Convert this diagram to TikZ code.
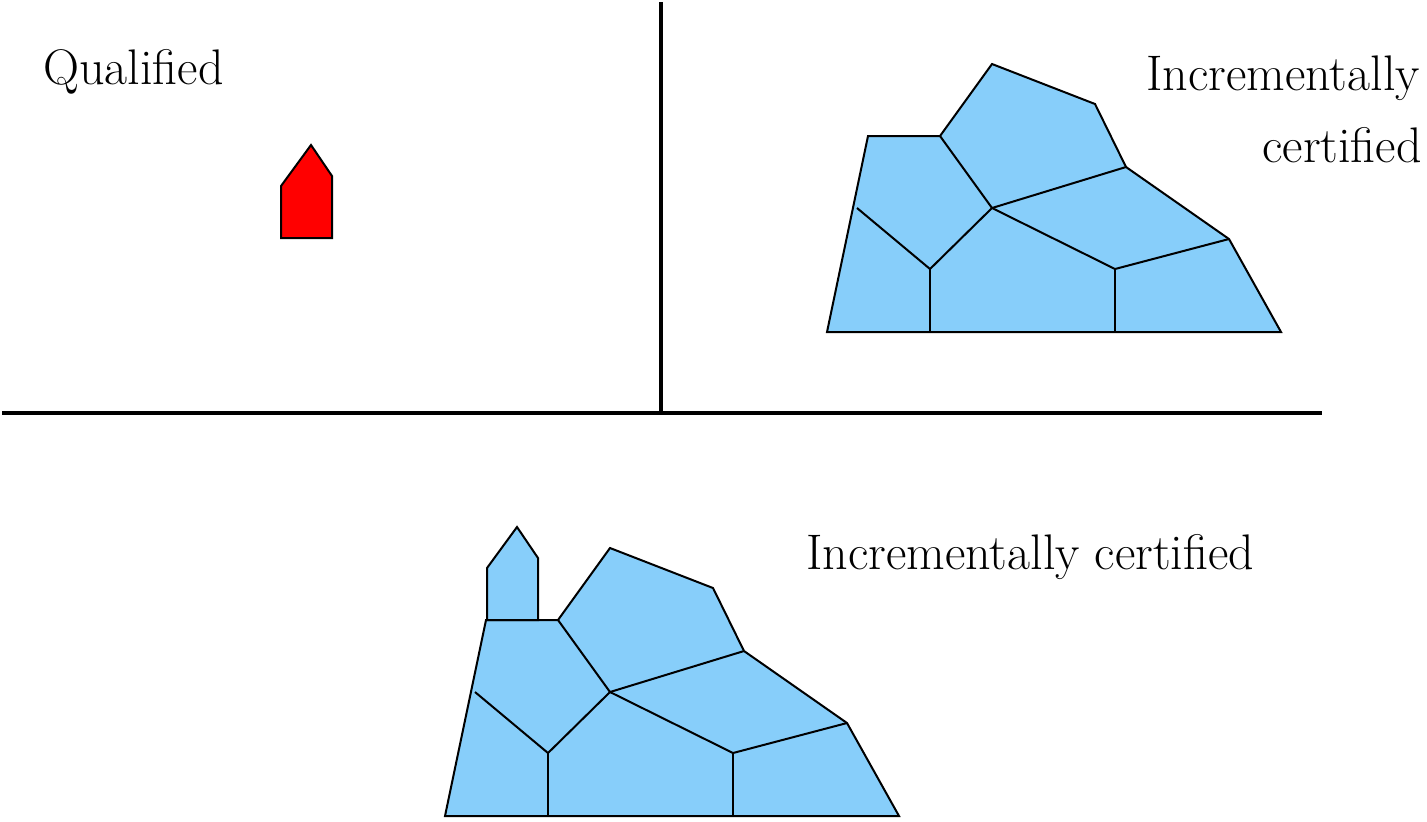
\documentclass[tikz,border=0pt]{standalone}
\usepackage{xcolor}
\definecolor{cellblue}{HTML}{87CEFA}
\definecolor{partred}{HTML}{FF0000}
\usetikzlibrary{positioning}

\begin{document}
\begin{tikzpicture}[
        x=0.5pt, y=-0.5pt,
        label text/.style={
            anchor=base west,
            inner sep=0pt,
            font=\fontsize{25}{30}\selectfont
        },
        divider/.style={
            draw=black,
            line width=1.75pt
        },
        cell/.style={
            draw=black,
            fill=cellblue,
            line width=1pt,
            line join=miter
        },
        edge/.style={
            draw=black,
            line width=1pt
        }
    ]
    \useasboundingbox (0,0) rectangle (1427,821);

    % Quadrant dividers
    \coordinate (top) at (661,2);
    \coordinate (mid) at (661,413);
    \coordinate (left) at (2,413);
    \coordinate (right) at (1322,413);
    \draw[divider] (top) -- (mid);
    \draw[divider] (left) -- (right);

    % Labels
    \node[label text] (qual) at (43,84) {Qualified};
    \node[label text] (incr) at (1146,90) {Incrementally};
    \node[label text] (cert) at (1262,162) {certified};
    \node[label text] (incrcert) at (806,569) {Incrementally certified};

    % Qualified part
    \draw[cell, fill=partred] (281,238) -- (281,186) -- (311,145) -- (332,176) -- (332,238) -- cycle;

    % Certified patches (top right, and bottom with the new part added)
    \foreach \dx/\dy in {0/0, -382/484} {
        \begin{scope}[shift={(\dx,\dy)}]
            \draw[cell] (827,332) -- (868,136) -- (940,136) -- (992,64) -- (1095,104)
                -- (1126,167) -- (1229,239) -- (1281,332) -- cycle;
            \coordinate (ca) at (992,208);
            \coordinate (cb) at (930,269);
            \coordinate (cc) at (1115,269);
            \draw[edge] (940,136) -- (ca) -- (1126,167);
            \draw[edge] (ca) -- (cc) -- (1229,239);
            \draw[edge] (857,208) -- (cb) -- (ca);
            \draw[edge] (cb) -- (930,332);
            \draw[edge] (cc) -- (1115,332);
        \end{scope}
    }

    % New part joined to the certified patch
    \draw[cell] (487,620) -- (487,568) -- (517,527) -- (538,558) -- (538,620) -- cycle;

\end{tikzpicture}
\end{document}
